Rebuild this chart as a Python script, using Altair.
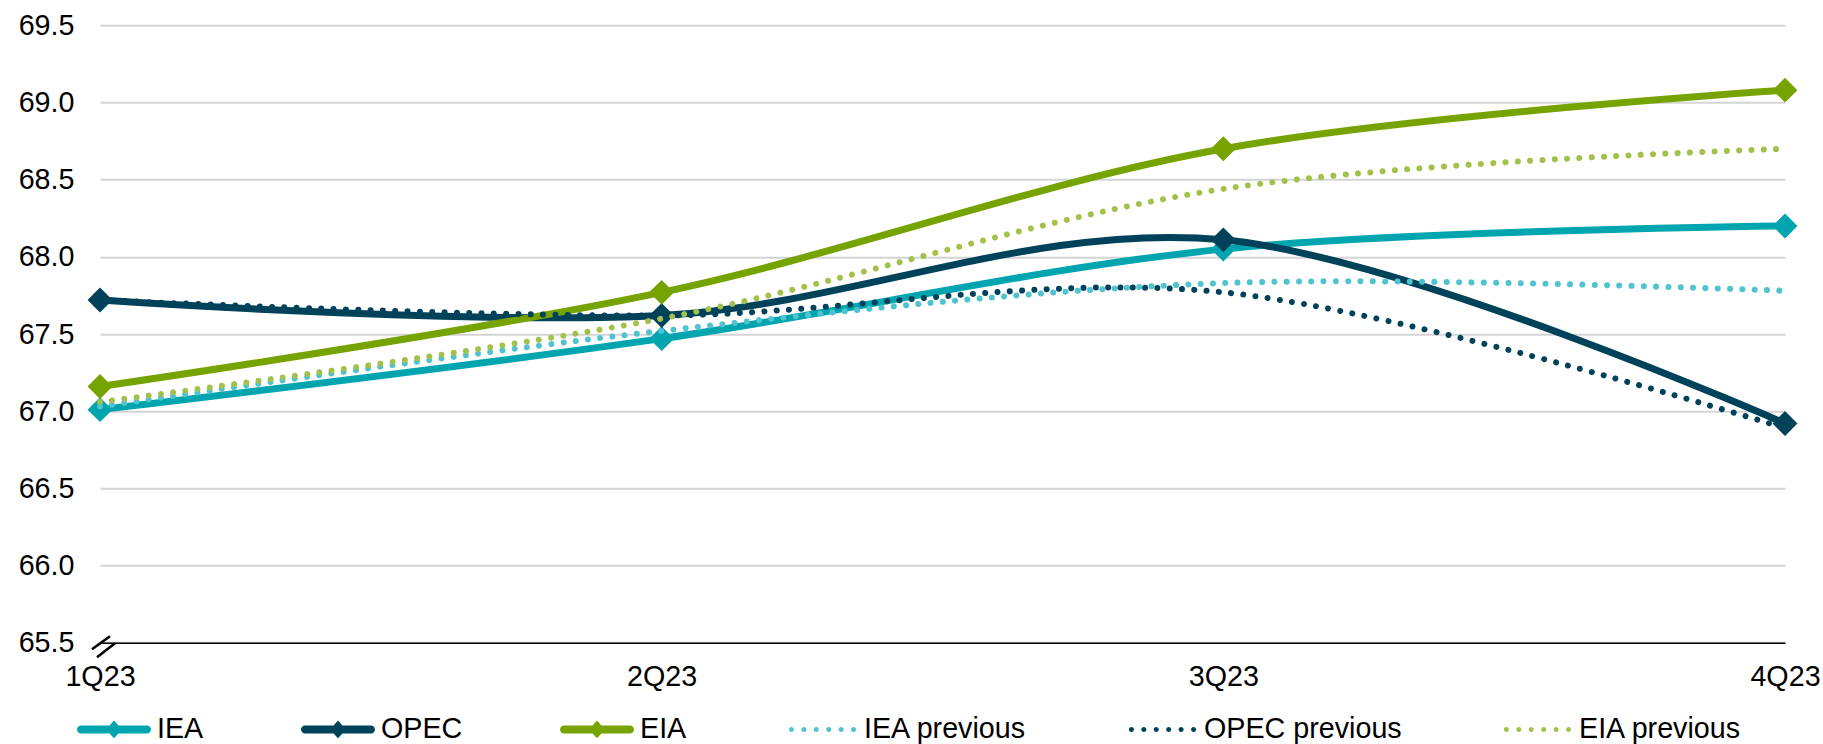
import altair as alt
import pandas as pd

# Quarterly demand estimates (mb/d) by agency, current and previous report
quarters = ["1Q23", "2Q23", "3Q23", "4Q23"]
iea = [67.01, 67.47, 68.05, 68.20]
opec = [67.72, 67.62, 68.11, 66.92]
eia = [67.16, 67.77, 68.70, 69.08]
iea_prev = [67.03, 67.52, 67.83, 67.78]
opec_prev = [67.72, 67.62, 67.77, 66.89]
eia_prev = [67.06, 67.60, 68.44, 68.70]

series_names = ["IEA", "OPEC", "EIA", "IEA previous", "OPEC previous", "EIA previous"]
series_values = [iea, opec, eia, iea_prev, opec_prev, eia_prev]
series_colors = ["#00A5B0", "#004259", "#76A300", "#4FC3CE", "#004259", "#A2C14A"]
y_ticks = [65.5, 66.0, 66.5, 67.0, 67.5, 68.0, 68.5, 69.0, 69.5]

FONT = "Liberation Sans"
FS = 28.7

rows = []
for name, vals in zip(series_names, series_values):
    for q, v in zip(quarters, vals):
        rows.append({"series": name, "quarter": q, "value": v})
df = pd.DataFrame(rows)

x_enc = alt.X("quarter:N", sort=quarters, scale=alt.Scale(padding=0),
              axis=alt.Axis(title=None, labelAngle=0, ticks=False, grid=False,
                            domain=True, domainColor="#000000", domainWidth=1.6,
                            labelFont=FONT, labelFontSize=FS, labelColor="#000000",
                            labelPadding=20))
y_enc = alt.Y("value:Q", scale=alt.Scale(domain=[65.5, 69.5], nice=False, zero=False),
              axis=alt.Axis(title=None, values=y_ticks, format=".1f", ticks=False,
                            domain=False, grid=True, gridColor="#D4D4D4", gridWidth=2,
                            labelFont=FONT, labelFontSize=FS, labelColor="#000000",
                            labelPadding=26))

base = alt.Chart(df)

solid_layers = []
marker_layers = []
dotted_layers = []
for name, color in zip(series_names, series_colors):
    sub = base.transform_filter(alt.datum.series == name)
    if name.endswith("previous"):
        dotted_layers.append(
            sub.mark_line(interpolate="cardinal", color=color, strokeWidth=6,
                          strokeDash=[0.01, 12.3], strokeCap="round")
            .encode(x=x_enc, y=y_enc)
        )
    else:
        solid_layers.append(
            sub.mark_line(interpolate="cardinal", color=color, strokeWidth=7,
                          strokeCap="round")
            .encode(x=x_enc, y=y_enc)
        )
        # Diamond markers on the current-report series
        marker_layers.append(
            sub.mark_point(shape="diamond", filled=True, size=620, opacity=1,
                           strokeWidth=0, color=color)
            .encode(x=x_enc, y=y_enc)
        )

# Axis-break mark at the origin
break_df = pd.DataFrame({"quarter": [quarters[0]], "value": [y_ticks[0]]})
axis_break = alt.Chart(break_df).mark_point(
    shape="M-0.96,0.25L0.54,-0.83M-0.54,0.92L0.96,-0.25",
    size=576, filled=False, stroke="#000000", strokeWidth=2.6, opacity=1,
    xOffset=3.5, yOffset=3.5,
).encode(x=x_enc, y=y_enc)


# Legend keys: a line with a diamond, or a row of dots
def solid_key():
    return ("M-0.892,-0.108L-0.119,-0.108L0,-0.24L0.119,-0.108L0.892,-0.108"
            "A0.108,0.108,0,0,1,0.892,0.108L0.119,0.108L0,0.24L-0.119,0.108"
            "L-0.892,0.108A0.108,0.108,0,0,1,-0.892,-0.108Z")


def dotted_key():
    r = 0.068
    parts = []
    for i in range(6):
        c = -0.80 + i * 0.336
        parts.append(f"M{c - r:.3f},0A{r},{r},0,1,0,{c + r:.3f},0A{r},{r},0,1,0,{c - r:.3f},0Z")
    return "".join(parts)


key_shapes = [dotted_key() if n.endswith("previous") else solid_key() for n in series_names]

legend_props = dict(title=None, orient="none", legendX=-23, legendY=667,
                    direction="horizontal", columns=6,
                    symbolSize=5476, symbolStrokeWidth=0, symbolOpacity=1,
                    labelFont=FONT, labelFontSize=FS,
                    labelColor="#000000", labelOffset=6,
                    labelLimit=0, columnPadding=97)

legend_layer = base.transform_filter("false").mark_point(
    filled=True, opacity=1, strokeWidth=0
).encode(
    x=x_enc, y=y_enc,
    color=alt.Color("series:N", scale=alt.Scale(domain=series_names, range=series_colors),
                    legend=alt.Legend(**legend_props)),
    shape=alt.Shape("series:N", scale=alt.Scale(domain=series_names, range=key_shapes),
                    legend=alt.Legend(**legend_props)),
)

chart = alt.layer(
    *solid_layers, *marker_layers, *dotted_layers, axis_break, legend_layer
).properties(
    width=1685, height=617.4,
    autosize=alt.AutoSizeParams(type="none"),
    padding={"left": 100, "top": 25.3, "right": 38, "bottom": 101.3},
).configure_view(stroke=None)

chart.save("out.html", embed_options={"renderer": "svg", "actions": False})
